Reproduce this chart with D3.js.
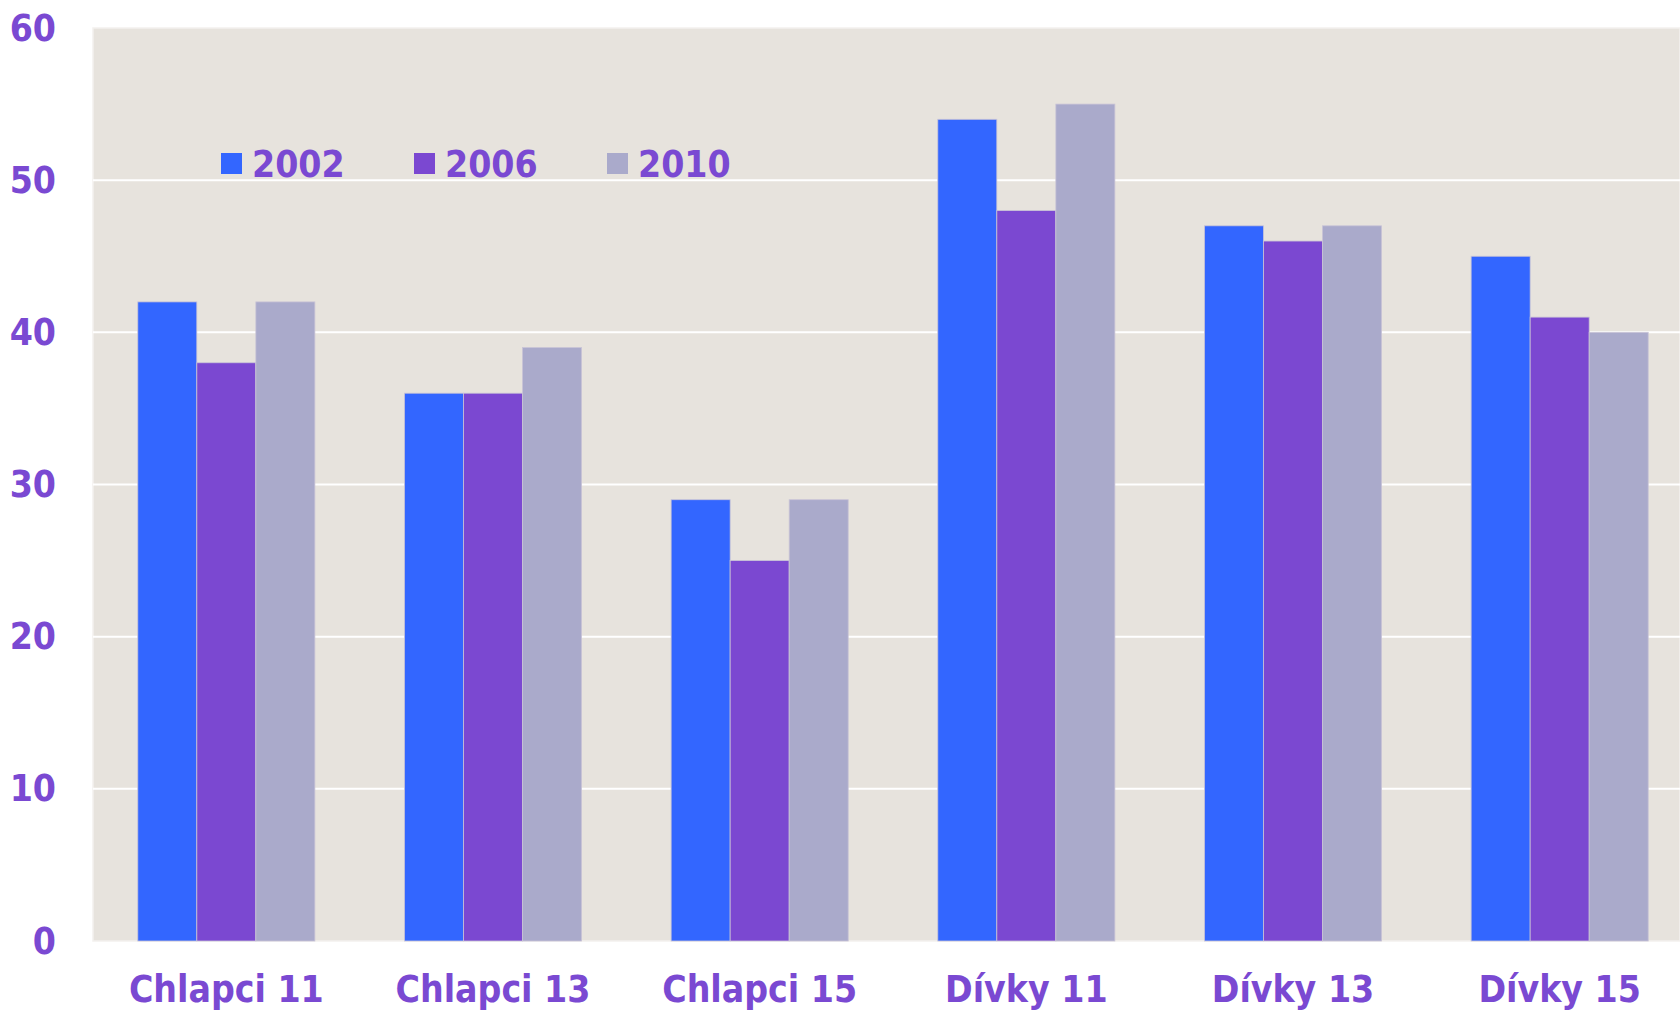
<!DOCTYPE html>
<html>
<head>
<meta charset="utf-8">
<script src="https://cdn.jsdelivr.net/npm/d3@7"></script>
<style>
  body { margin: 0; background: #fff; }
  text { font-family: "DejaVu Sans Condensed", "DejaVu Sans", sans-serif; font-weight: bold; fill: #7a49d2; }
</style>
</head>
<body>
<div id="chart"></div>
<script>
var categories = ["Chlapci 11", "Chlapci 13", "Chlapci 15", "Dívky 11", "Dívky 13", "Dívky 15"];
var years = ["2002", "2006", "2010"];
var values2002 = [42, 36, 29, 54, 47, 45];
var values2006 = [38, 36, 25, 48, 46, 41];
var values2010 = [42, 39, 29, 55, 47, 40];
var yTicks = [0, 10, 20, 30, 40, 50, 60];
var colors = ["#3366ff", "#7b48d1", "#aaaacb"];

var series = [values2002, values2006, values2010];

var width = 1680,
    height = 1013,
    plotLeft = 93, plotRight = 1680, plotTop = 28, plotBottom = 941;

var svg = d3.select("#chart")
    .append("svg")
    .attr("width", width)
    .attr("height", height);

// the category axis runs a little past the right edge of the picture
var xScale = d3.scaleBand()
    .domain(categories)
    .range([plotLeft, 1693])
    .paddingInner(0.336)
    .paddingOuter(0.168);

var xInner = d3.scaleBand()
    .domain(years)
    .range([0, xScale.bandwidth()]);

var yScale = d3.scaleLinear()
    .domain([0, 60])
    .range([plotBottom, plotTop]);

// plot background
svg.append("rect")
    .attr("x", plotLeft)
    .attr("y", plotTop)
    .attr("width", plotRight - plotLeft)
    .attr("height", plotBottom - plotTop)
    .attr("fill", "#e7e3dd")
    .attr("stroke", "#f3f1ee")
    .attr("stroke-width", 1.5);

// gridlines
svg.selectAll(".grid")
    .data(yTicks.filter(function (d) { return d > 0 && d < 60; }))
    .enter().append("line")
    .attr("x1", plotLeft)
    .attr("x2", plotRight)
    .attr("y1", function (d) { return yScale(d); })
    .attr("y2", function (d) { return yScale(d); })
    .attr("stroke", "#ffffff")
    .attr("stroke-width", 2);

// bars
var groups = svg.selectAll(".group")
    .data(categories)
    .enter().append("g")
    .attr("transform", function (d) { return "translate(" + xScale(d) + ",0)"; });

groups.selectAll("rect")
    .data(function (d, i) {
        return years.map(function (y, j) { return { year: y, value: series[j][i], k: j }; });
    })
    .enter().append("rect")
    .attr("x", function (d) { return xInner(d.year); })
    .attr("y", function (d) { return yScale(d.value); })
    .attr("width", xInner.bandwidth())
    .attr("height", function (d) { return plotBottom - yScale(d.value); })
    .attr("fill", function (d) { return colors[d.k]; })
    .attr("stroke", "#c9c4d6")
    .attr("stroke-width", 0.8);

// y axis labels
svg.selectAll(".ylab")
    .data(yTicks)
    .enter().append("text")
    .attr("x", 56)
    .attr("y", function (d) { return yScale(d); })
    .attr("text-anchor", "end")
    .attr("dominant-baseline", "central")
    .attr("font-size", 37)
    .text(function (d) { return d; });

// x axis labels
svg.selectAll(".xlab")
    .data(categories)
    .enter().append("text")
    .attr("x", function (d) { return xScale(d) + xScale.bandwidth() / 2; })
    .attr("y", 1002)
    .attr("text-anchor", "middle")
    .attr("font-size", 37)
    .text(function (d) { return d; });

// legend
var legend = svg.selectAll(".legend")
    .data(years)
    .enter().append("g")
    .attr("transform", function (d, i) { return "translate(" + (221 + i * 193) + ",153)"; });

legend.append("rect")
    .attr("width", 21)
    .attr("height", 21)
    .attr("fill", function (d, i) { return colors[i]; });

legend.append("text")
    .attr("x", 31)
    .attr("y", 24)
    .attr("font-size", 37)
    .text(function (d) { return d; });
</script>
</body>
</html>
